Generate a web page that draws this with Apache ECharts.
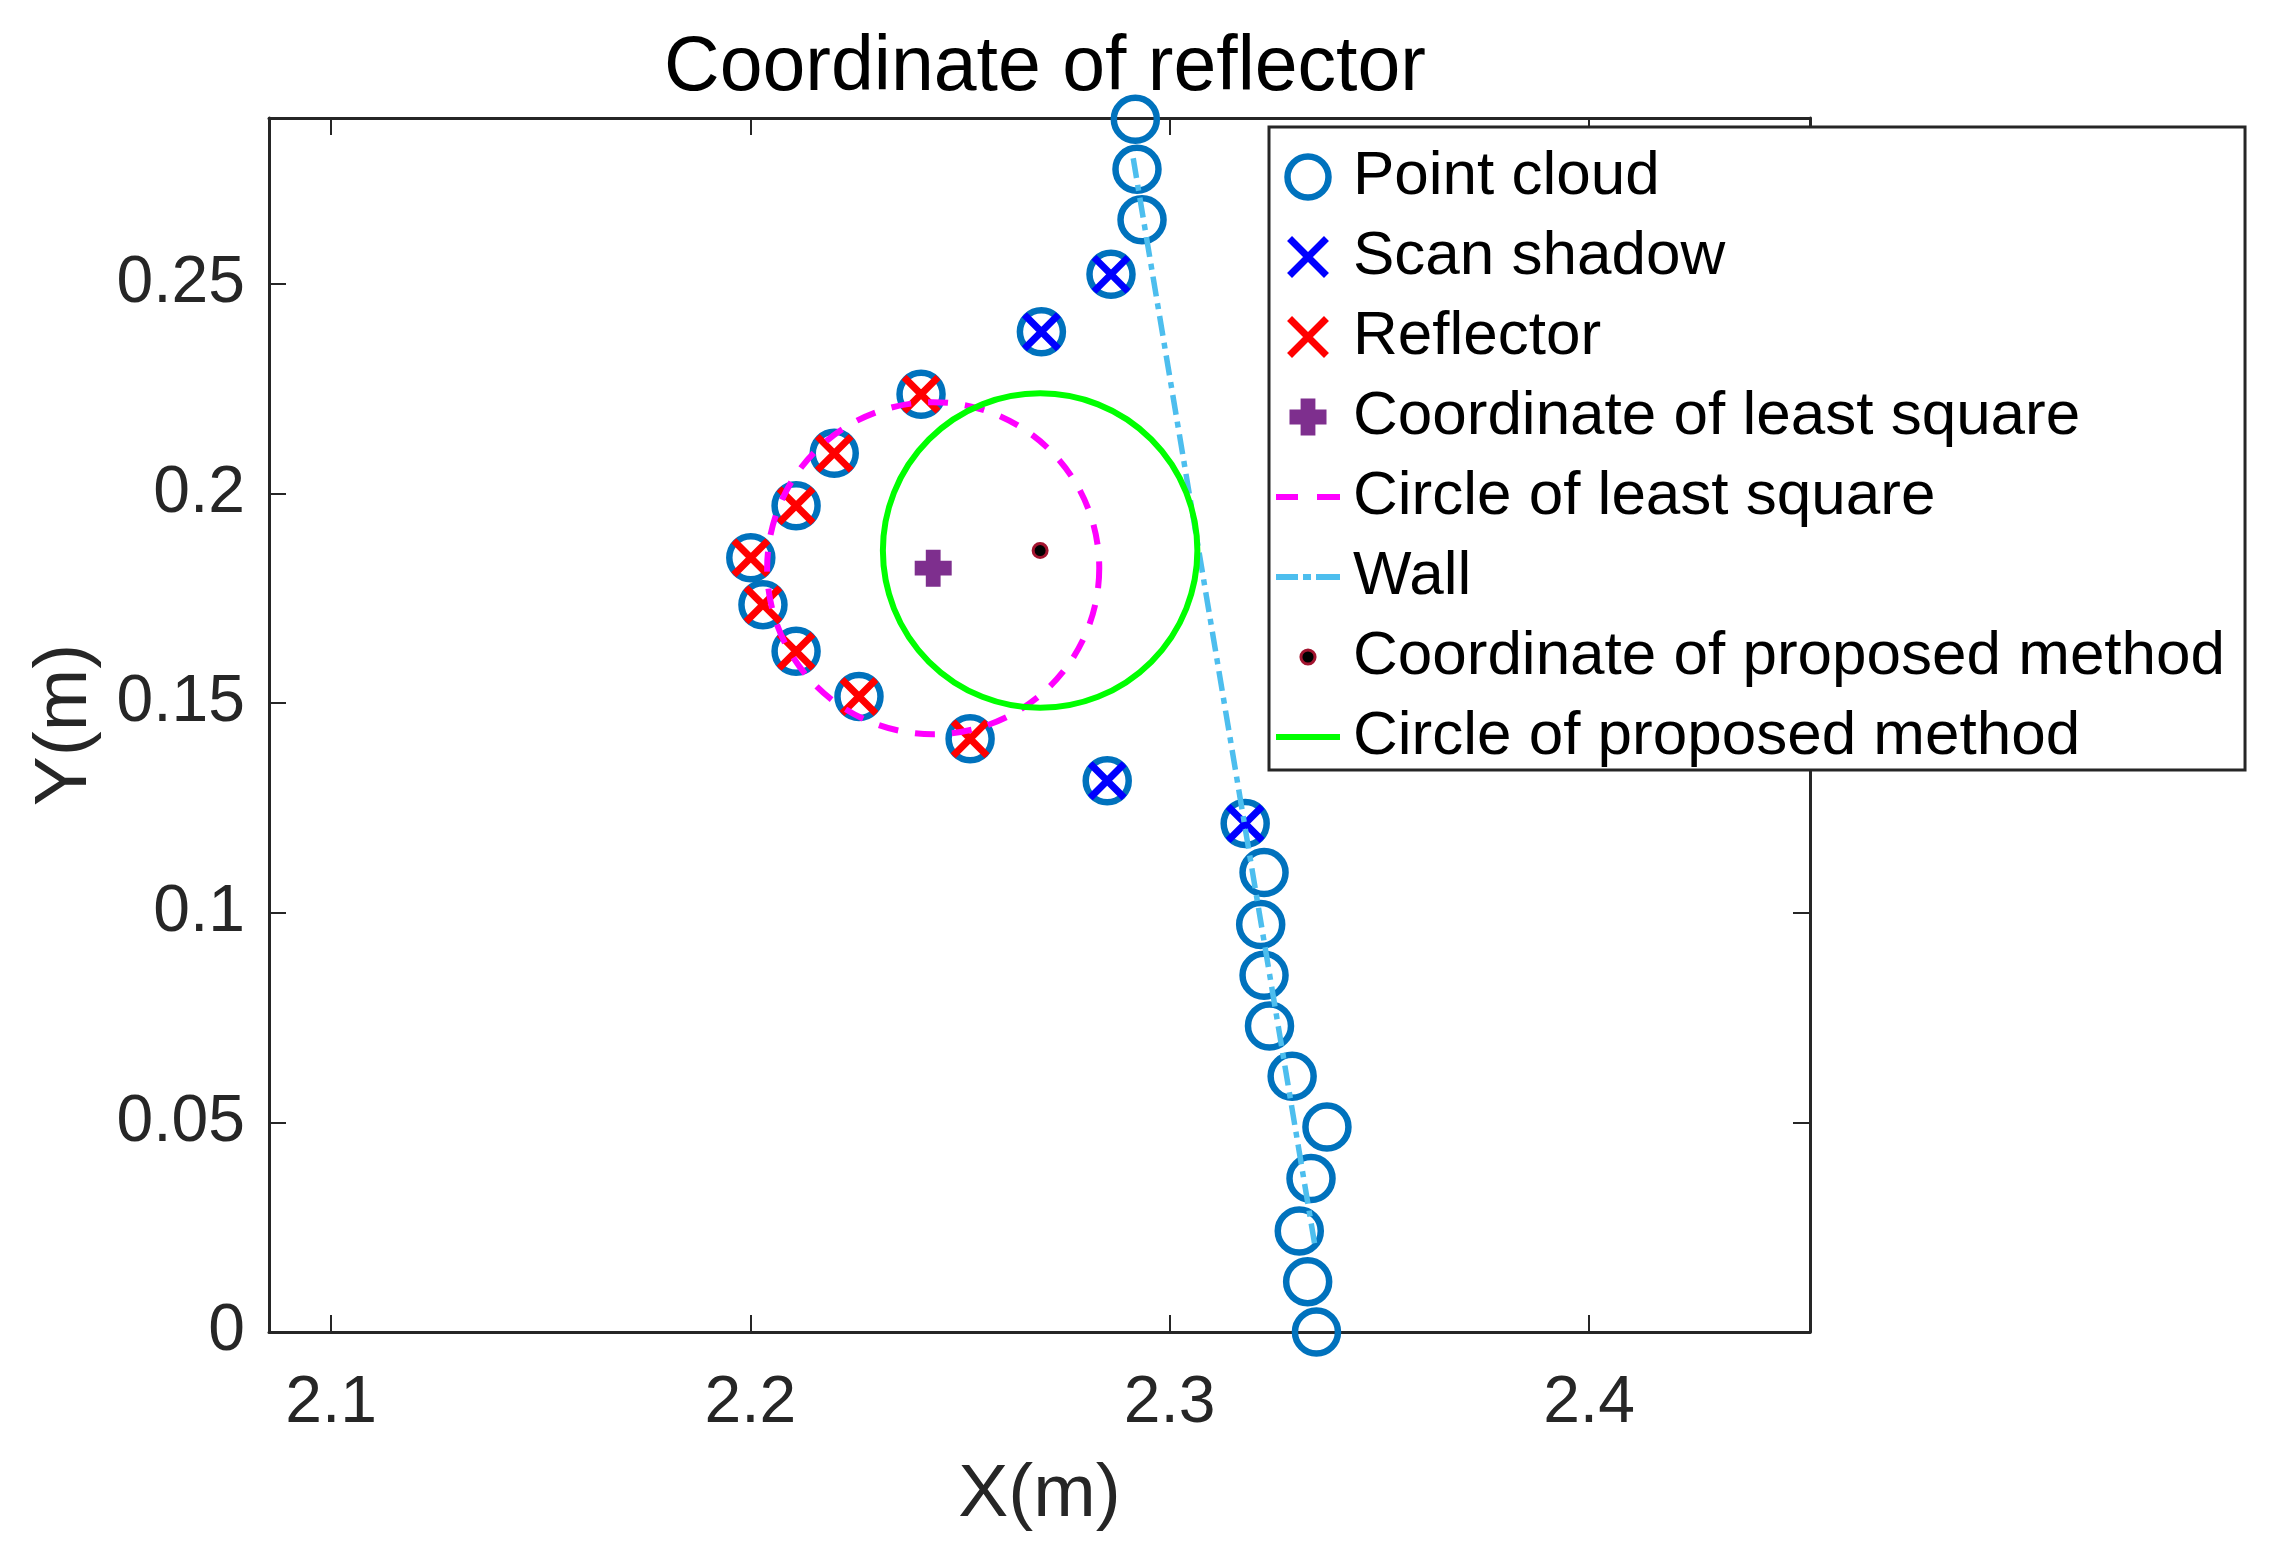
<!DOCTYPE html>
<html>
<head>
<meta charset="utf-8">
<script src="https://cdn.jsdelivr.net/npm/echarts@6/dist/echarts.min.js"></script>
<style>
html,body{margin:0;padding:0;background:#fff;}
#main{width:2276px;height:1555px;}
</style>
</head>
<body>
<div id="main"></div>
<script>
// ---------------- data ----------------
const pointCloudX = [2.2918, 2.2922, 2.2934, 2.2860, 2.2694, 2.2407, 2.2200, 2.2109, 2.2001, 2.2030, 2.2109, 2.2259, 2.2524, 2.2851, 2.3180, 2.3225, 2.3217, 2.3225, 2.3238, 2.3292, 2.3375, 2.3337, 2.3309, 2.3329, 2.3350];
const pointCloudY = [0.2893, 0.2774, 0.2653, 0.2523, 0.2386, 0.2237, 0.2096, 0.1971, 0.1847, 0.1735, 0.1624, 0.1516, 0.1415, 0.1315, 0.1213, 0.1096, 0.0972, 0.0851, 0.0730, 0.0610, 0.0489, 0.0366, 0.0241, 0.0120, 0.0000];
const scanShadowX = [2.2860, 2.2694, 2.2851, 2.3180];
const scanShadowY = [0.2523, 0.2386, 0.1315, 0.1213];
const reflectorX = [2.2407, 2.2200, 2.2109, 2.2001, 2.2030, 2.2109, 2.2259, 2.2524];
const reflectorY = [0.2237, 0.2096, 0.1971, 0.1847, 0.1735, 0.1624, 0.1516, 0.1415];
const leastSquareCenter = [2.2436, 0.1822];
const leastSquareRadius = 0.0396;
const wallX = [2.2913, 2.3347];
const wallY = [0.2800, 0.0202];
const proposedCenter = [2.2691, 0.1864];
const proposedRadius = 0.0375;
const xTicks = [2.1, 2.2, 2.3, 2.4];
const yTicks = [0, 0.05, 0.1, 0.15, 0.2, 0.25];
const xRange = [2.0852, 2.4527];
const yRange = [0, 0.2896];
const seriesNames = ['Point cloud', 'Scan shadow', 'Reflector', 'Coordinate of least square',
  'Circle of least square', 'Wall', 'Coordinate of proposed method', 'Circle of proposed method'];
const titleText = 'Coordinate of reflector';
const xName = 'X(m)';
const yName = 'Y(m)';

// ---------------- helpers ----------------
const zip = (xs, ys) => xs.map((x, i) => [x, ys[i]]);
const FONT = '"Liberation Sans", Arial, Helvetica, sans-serif';
const AX = '#262626';
const C_PC = '#0072BD', C_SS = '#0000FF', C_RF = '#FF0000', C_LS = '#7E2F8E',
      C_LSC = '#FF00FF', C_WALL = '#4DBEEE', C_PM = '#000000', C_PME = '#A2142F', C_PMC = '#00FF00';

const X_PATH = 'path://M0,0L10,10M10,0L0,10';
const PLUS_PATH = 'path://M1.5,0h2v1.5h1.5v2h-1.5v1.5h-2v-1.5h-1.5v-2h1.5z';
// legend icons (padded with move-to points so they keep the reference size)
const X_ICON = 'path://M-0.55,-0.55M0,0L10,10M10,0L0,10M10.55,10.55';
const PLUS_ICON = 'path://M-0.27,-0.27M1.5,0h2v1.5h1.5v2h-1.5v1.5h-2v-1.5h-1.5v-2h1.5zM5.27,5.27';
const DOT_ICON = 'path://M-9.5,-9.5M10,5A5,5,0,1,1,0,5A5,5,0,1,1,10,5ZM19.5,19.5';
const DASH_ICON = 'path://M0,0h22v6h-22zM41,0h23v6h-23z';
const DASHDOT_ICON = 'path://M0,0h22v6h-22zM27,0h8v6h-8zM40,0h24v6h-24z';
const SOLID_ICON = 'path://M0,0h64v6h-64z';

function circleRenderer(color, dash) {
  return function (params, api) {
    const c = api.coord([api.value(0), api.value(1)]);
    const r = api.size([api.value(2), 0])[0];
    return {
      type: 'circle',
      shape: { cx: c[0], cy: c[1], r: r },
      style: { fill: 'none', stroke: color, lineWidth: 6, lineDash: dash }
    };
  };
}

const chart = echarts.init(document.getElementById('main'), null, { renderer: 'canvas' });

const baseAxisLine = { show: true, onZero: false, lineStyle: { color: AX, width: 3 } };
const tickStyle = { show: true, inside: true, length: 17, lineStyle: { color: AX, width: 2 } };

const option = {
  animation: false,
  backgroundColor: '#fff',
  title: {
    text: titleText,
    left: 1040,
    top: 25,
    textAlign: 'center',
    textStyle: { fontFamily: FONT, fontSize: 77, fontWeight: 'normal', color: '#000' }
  },
  grid: { left: 269, top: 118, width: 1541, height: 1214, containLabel: false, show: false },
  xAxis: [
    {
      type: 'value', position: 'bottom', min: xRange[0], max: xRange[1],
      name: xName, nameLocation: 'middle', nameGap: 126,
      nameTextStyle: { fontFamily: FONT, fontSize: 75, color: AX },
      axisLine: baseAxisLine,
      axisTick: Object.assign({ customValues: xTicks }, tickStyle),
      axisLabel: { customValues: xTicks, margin: 39, fontFamily: FONT, fontSize: 66, color: AX },
      splitLine: { show: false }
    },
    {
      type: 'value', position: 'top', min: xRange[0], max: xRange[1],
      axisLine: baseAxisLine,
      axisTick: Object.assign({ customValues: xTicks }, tickStyle),
      axisLabel: { show: false },
      splitLine: { show: false }
    }
  ],
  yAxis: [
    {
      type: 'value', position: 'left', min: yRange[0], max: yRange[1],
      name: yName, nameLocation: 'middle', nameGap: 166,
      nameTextStyle: { fontFamily: FONT, fontSize: 75, color: AX },
      axisLine: baseAxisLine,
      axisTick: Object.assign({ customValues: yTicks }, tickStyle),
      axisLabel: { customValues: yTicks, margin: 24, fontFamily: FONT, fontSize: 66, color: AX },
      splitLine: { show: false }
    },
    {
      type: 'value', position: 'right', min: yRange[0], max: yRange[1],
      axisLine: baseAxisLine,
      axisTick: Object.assign({ customValues: yTicks }, tickStyle),
      axisLabel: { show: false },
      splitLine: { show: false }
    }
  ],
  legend: {
    orient: 'vertical',
    left: 1269, top: 127,
    padding: [19, 20, 2, 7],
    itemWidth: 64, itemHeight: 41, itemGap: 18,
    backgroundColor: '#fff',
    borderColor: AX, borderWidth: 3, borderRadius: 0,
    selectedMode: false,
    z: 10,
    textStyle: { fontFamily: FONT, fontSize: 62, lineHeight: 62, color: '#000', padding: [0, 0, 0, 8] },
    data: [
      { name: seriesNames[0], icon: 'circle', itemStyle: { color: 'rgba(255,255,255,0)', borderColor: C_PC, borderWidth: 6.5 } },
      { name: seriesNames[1], icon: X_ICON, itemStyle: { color: C_SS, borderColor: C_SS, borderWidth: 7 } },
      { name: seriesNames[2], icon: X_ICON, itemStyle: { color: C_RF, borderColor: C_RF, borderWidth: 7 } },
      { name: seriesNames[3], icon: PLUS_ICON, itemStyle: { color: C_LS, borderColor: C_LS, borderWidth: 0 } },
      { name: seriesNames[4], icon: DASH_ICON, itemStyle: { color: C_LSC, borderColor: C_LSC, borderWidth: 0 } },
      { name: seriesNames[5], icon: DASHDOT_ICON, itemStyle: { color: C_WALL, borderColor: C_WALL, borderWidth: 0 } },
      { name: seriesNames[6], icon: DOT_ICON, itemStyle: { color: C_PM, borderColor: C_PME, borderWidth: 3 } },
      { name: seriesNames[7], icon: SOLID_ICON, itemStyle: { color: C_PMC, borderColor: C_PMC, borderWidth: 0 } }
    ]
  },
  series: [
    {
      name: seriesNames[0], type: 'scatter', xAxisIndex: 0, yAxisIndex: 0, clip: false, z: 2,
      data: zip(pointCloudX, pointCloudY),
      symbol: 'circle', symbolSize: 43,
      itemStyle: { color: 'rgba(255,255,255,0)', borderColor: C_PC, borderWidth: 6.5, opacity: 1 },
      emphasis: { disabled: true }
    },
    {
      name: seriesNames[1], type: 'scatter', clip: false, z: 2,
      data: zip(scanShadowX, scanShadowY),
      symbol: X_PATH, symbolSize: 34,
      itemStyle: { color: C_SS, borderColor: C_SS, borderWidth: 7, opacity: 1 },
      emphasis: { disabled: true }
    },
    {
      name: seriesNames[2], type: 'scatter', clip: false, z: 2,
      data: zip(reflectorX, reflectorY),
      symbol: X_PATH, symbolSize: 34,
      itemStyle: { color: C_RF, borderColor: C_RF, borderWidth: 7, opacity: 1 },
      emphasis: { disabled: true }
    },
    {
      name: seriesNames[3], type: 'scatter', clip: false, z: 2,
      data: [leastSquareCenter],
      symbol: PLUS_PATH, symbolSize: 37,
      itemStyle: { color: C_LS, opacity: 1 },
      emphasis: { disabled: true }
    },
    {
      name: seriesNames[4], type: 'custom', z: 3,
      data: [[leastSquareCenter[0], leastSquareCenter[1], leastSquareRadius]],
      encode: { x: 0, y: 1 },
      itemStyle: { color: C_LSC },
      renderItem: circleRenderer(C_LSC, [20, 17])
    },
    {
      name: seriesNames[5], type: 'line', z: 3,
      data: zip(wallX, wallY),
      symbol: 'none',
      lineStyle: { color: C_WALL, width: 5.5, type: [20, 7, 6, 7] },
      itemStyle: { color: C_WALL },
      emphasis: { disabled: true }
    },
    {
      name: seriesNames[6], type: 'scatter', clip: false, z: 4,
      data: [proposedCenter],
      symbol: 'circle', symbolSize: 14,
      itemStyle: { color: C_PM, borderColor: C_PME, borderWidth: 3, opacity: 1 },
      emphasis: { disabled: true }
    },
    {
      name: seriesNames[7], type: 'custom', z: 4,
      data: [[proposedCenter[0], proposedCenter[1], proposedRadius]],
      encode: { x: 0, y: 1 },
      itemStyle: { color: C_PMC },
      renderItem: circleRenderer(C_PMC, null)
    }
  ]
};

chart.setOption(option);
</script>
</body>
</html>
